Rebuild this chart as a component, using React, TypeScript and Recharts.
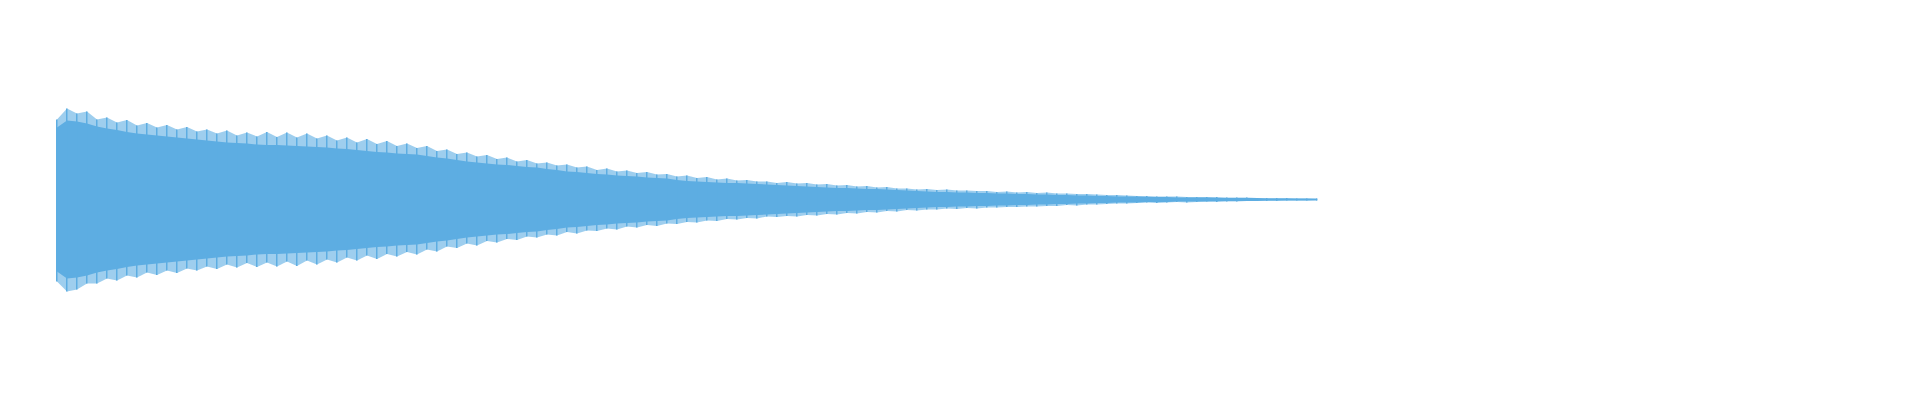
import { Area, Bar, ComposedChart, XAxis, YAxis } from "recharts";

const WAVE_COLOR = "#5DADE2";

// solid body of the waveform (inner envelope), one reading per frame
const CORE = [
  72, 79, 78, 76, 73, 71, 69.5, 67.5, 66, 65, 64, 63, 62, 61, 60, 59, 58, 57, 56.5, 56,
  55, 54.5, 54.5, 54, 53.5, 53, 52.5, 52, 51, 50.5, 49.5, 48.5, 47.5, 47, 46, 45.5, 45, 43.5, 42, 41,
  39.5, 38, 37, 36, 35, 34.5, 33.5, 32.5, 32, 30.5, 29.5, 28, 27.5, 26.5, 25.5, 25, 24, 23.5, 23, 22,
  21.5, 21, 19.5, 18.5, 18, 17.5, 17, 16.5, 16.5, 16, 15.5, 15, 14.5, 14, 13.5, 13, 12.5, 12, 11.5, 11.5,
  11, 10.5, 10.5, 10, 9.5, 9, 8.5, 8, 7.5, 7.5, 7, 7, 6.5, 6.5, 6, 6, 5.5, 5.5, 5, 5,
  4.5, 4.5, 4, 4, 3.5, 3.5, 3, 3, 3, 2.5, 2.5, 2.5, 2, 2, 2, 2, 1.5, 1.5, 1.5, 1.5,
  1.5, 1, 1, 1, 1, 1, 0.8,
];

// positive peaks (spike tips above the body)
const PEAK_UP = [
  80, 91, 86, 88, 80, 82, 77, 79.5, 74, 76.5, 72, 74.5, 70, 72.5, 68, 70, 66, 69, 64, 67,
  63, 67.5, 62.5, 67, 62, 66, 61, 64, 59, 62, 57, 60.5, 55.5, 58.5, 53.5, 56, 51.5, 53.5, 48.5, 50,
  45.5, 47, 43, 44.5, 40.5, 42, 38, 39.5, 36, 37, 34, 35, 32, 33, 29.5, 31, 28, 29, 26.5, 27.5,
  25, 25.5, 23, 24, 21.5, 22.5, 20, 21, 19, 19.5, 18, 18, 16.5, 17.5, 16, 16.5, 15, 15.5, 14, 14.5,
  13, 13.5, 12, 12.5, 11, 11, 10, 10.5, 9.5, 10, 9, 9, 8.5, 8.5, 7.5, 8, 7, 7.5, 6.5, 7,
  6, 6, 5.5, 5.5, 5, 4.5, 4.5, 4, 3.5, 3.5, 3, 3, 3, 2.5, 2.5, 2.5, 2.5, 2, 2, 2,
  1.5, 1.5, 1.5, 1.5, 1, 1, 1,
];

// negative peaks (spike tips below the body), as magnitudes
const PEAK_DOWN = [
  82, 92, 90, 84, 84, 79, 81, 76, 78, 73, 75.5, 71, 73.5, 69, 71, 67, 69.5, 65, 68, 63.5,
  67.5, 63, 67, 62, 66.5, 61, 65, 60, 63, 58, 61, 56, 59.5, 54.5, 57, 52.5, 55, 50, 52, 47,
  48.5, 44, 46, 41.5, 43, 39.5, 40.5, 37, 38, 35, 36, 32.5, 34, 31, 31.5, 29, 30, 27, 28, 25.5,
  26.5, 24, 24.5, 22.5, 23, 21, 21.5, 19.5, 20, 18.5, 19, 17, 17.5, 16.5, 17, 15.5, 16, 14.5, 15, 13.5,
  14, 12.5, 13, 11.5, 12, 10.5, 11, 10, 10, 9, 9.5, 8.5, 9, 8, 8, 7.5, 7.5, 7, 7, 6.5,
  6.5, 5.5, 6, 5, 5, 4.5, 4, 4, 3.5, 3, 3.5, 3, 2.5, 3, 2.5, 2, 2.5, 2, 2, 1.5,
  1.5, 1.5, 1.5, 1, 1, 1, 1,
];

// frame times (10-unit hop, first frame at 3)
const FRAMES = CORE.map((_, i) => 3 + i * 10);

const data = FRAMES.map((t, i) => ({
  t,
  body: [-CORE[i], CORE[i]],
  peak: [-PEAK_DOWN[i], PEAK_UP[i]],
}));

export default function App() {
  return (
    <div style={{ width: 1904, height: 384, background: "#fff" }}>
      <ComposedChart
        width={1904}
        height={384}
        data={data}
        margin={{ top: 0, right: 46, bottom: 1, left: 46 }}
      >
        <XAxis dataKey="t" type="number" domain={[0, 1812]} hide />
        <YAxis type="number" domain={[-191.5, 191.5]} hide />
        {/* hairline fringe between body and peak tips */}
        <Area
          type="linear"
          dataKey="peak"
          stroke="none"
          fill={WAVE_COLOR}
          fillOpacity={0.6}
          isAnimationActive={false}
        />
        <Area
          type="linear"
          dataKey="body"
          stroke="none"
          fill={WAVE_COLOR}
          fillOpacity={1}
          isAnimationActive={false}
        />
        <Bar dataKey="peak" fill={WAVE_COLOR} barSize={1.5} isAnimationActive={false} />
      </ComposedChart>
    </div>
  );
}
